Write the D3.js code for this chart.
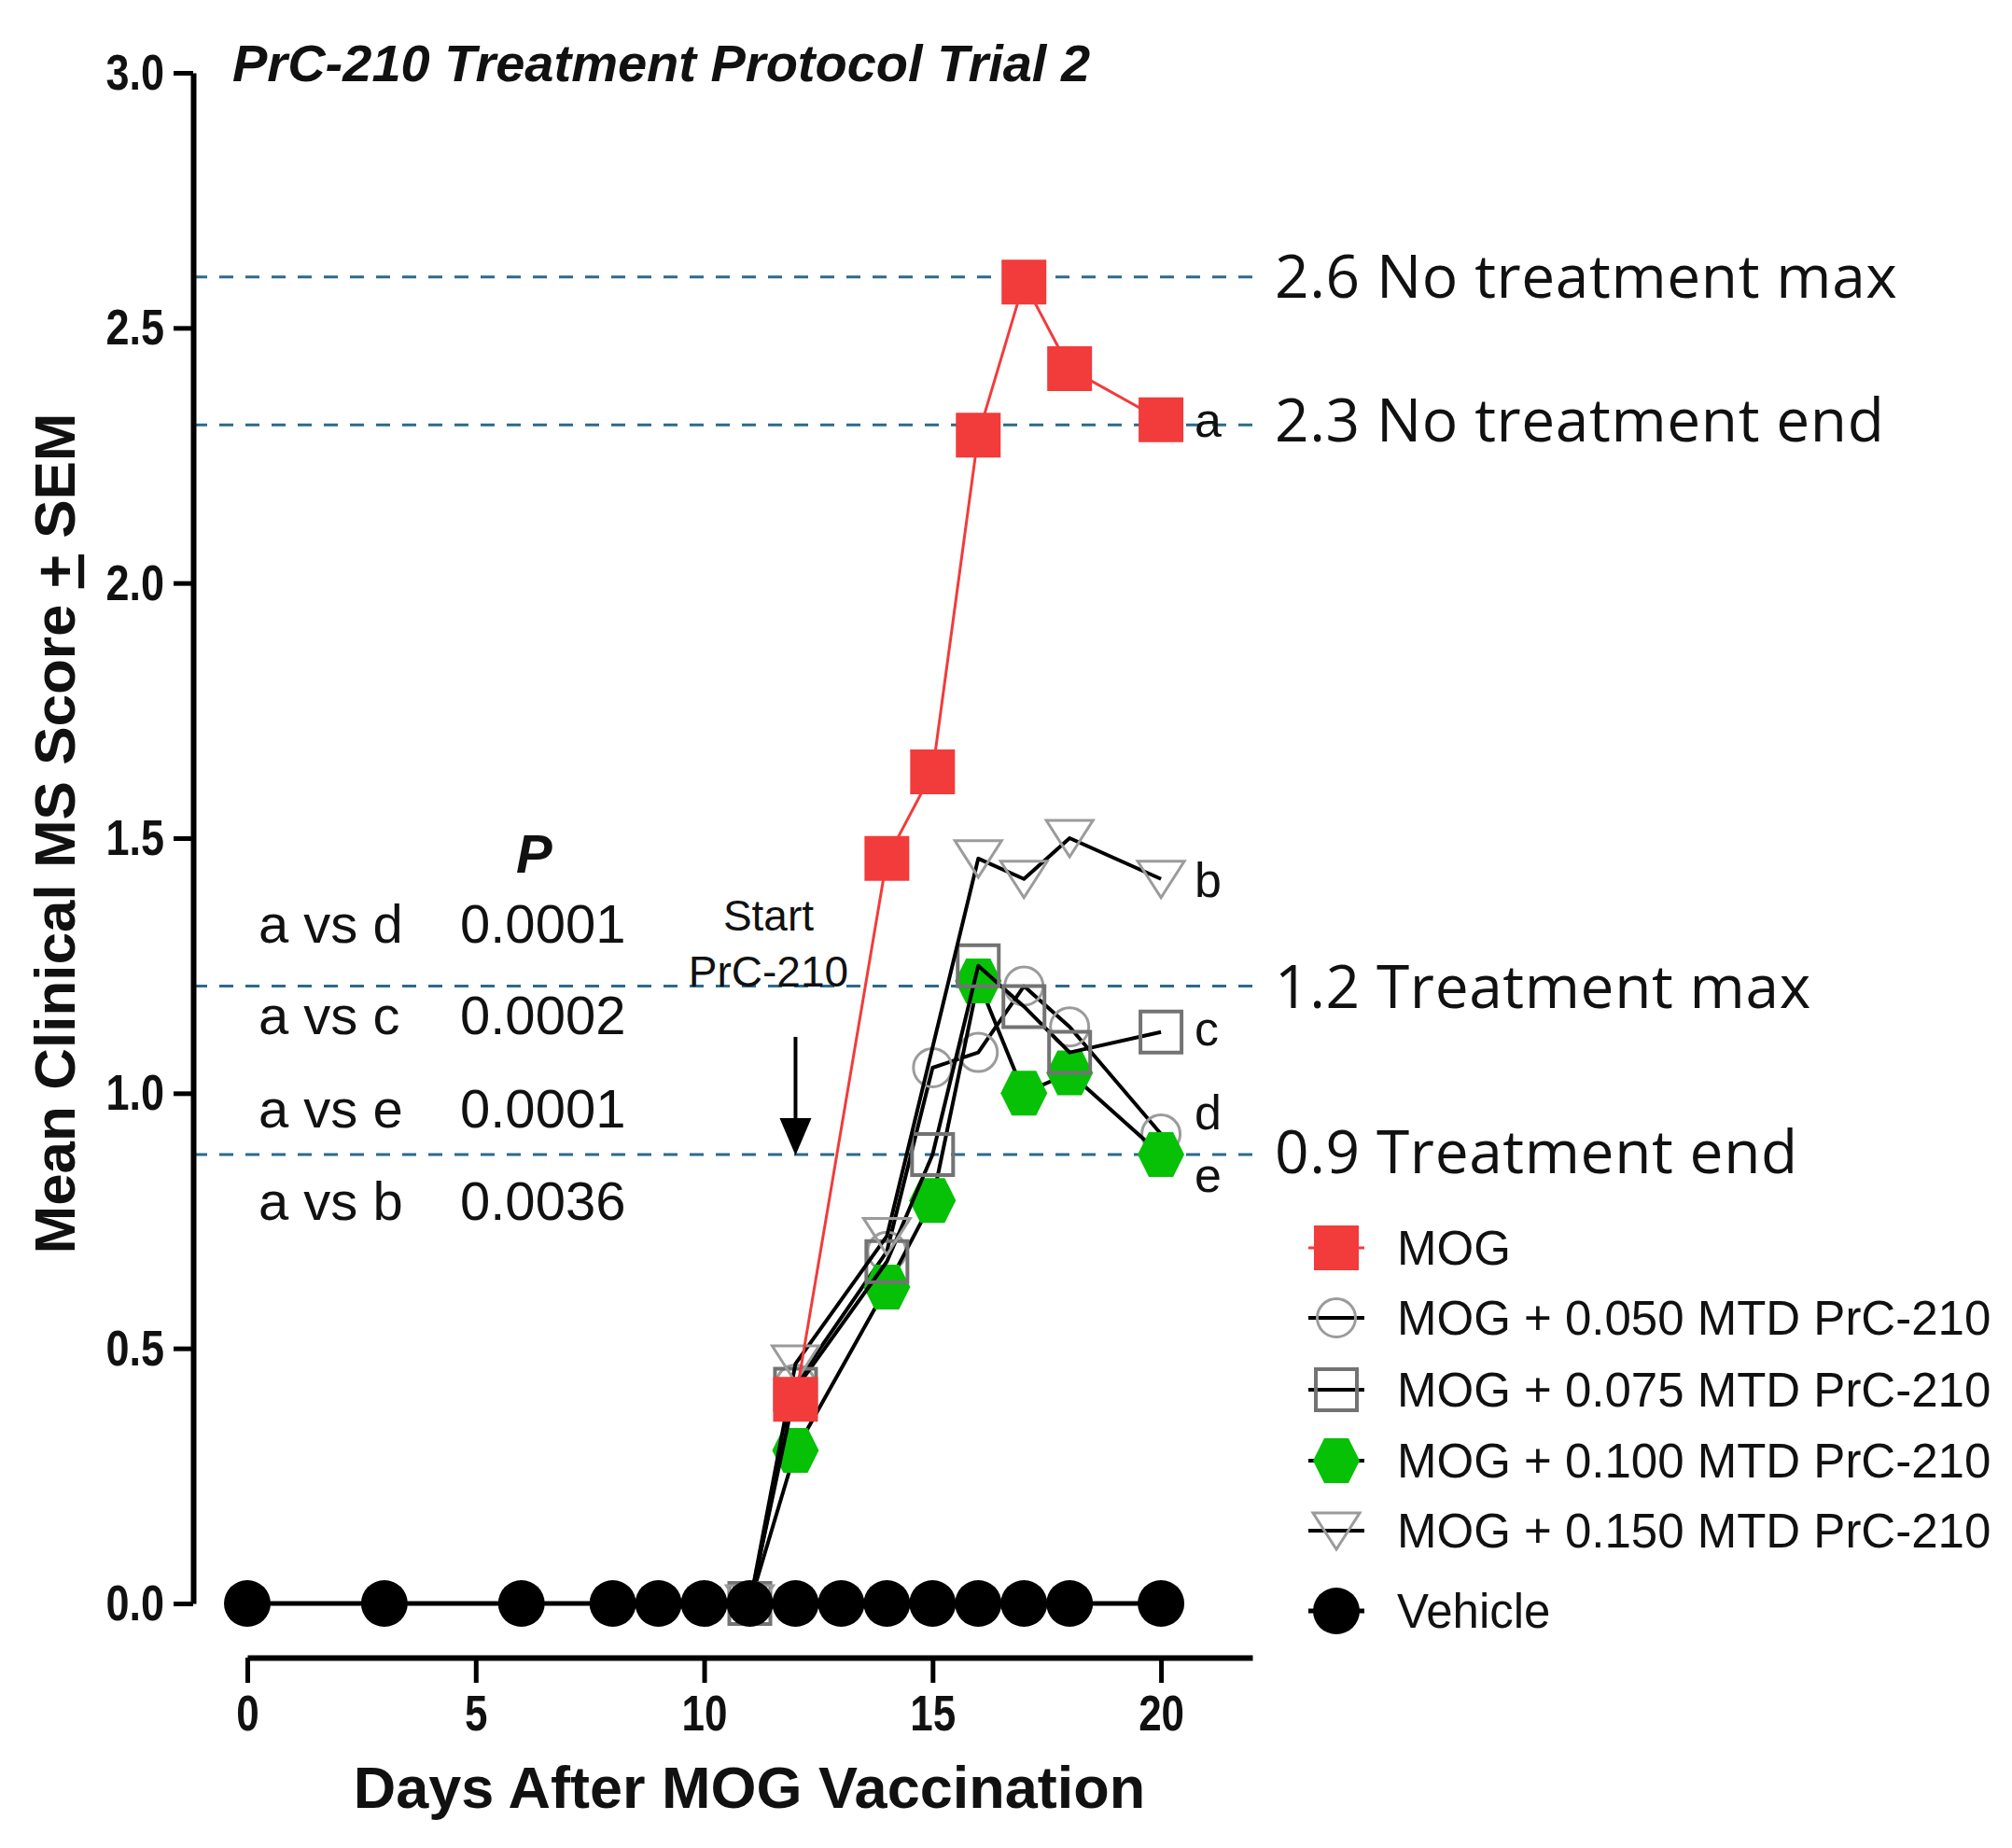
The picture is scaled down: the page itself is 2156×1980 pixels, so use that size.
<!DOCTYPE html>
<html>
<head>
<meta charset="utf-8">
<title>PrC-210 Treatment Protocol Trial 2</title>
<script src="https://d3js.org/d3.v7.min.js"></script>
<style>
  body { margin: 0; background: #fff; }
  svg text { font-family: "Liberation Sans", Arial, sans-serif; fill: #111; }
  /* the tick numbers in the figure are drawn a bit taller than wide */
  .tall { transform-box: fill-box; transform-origin: center; transform: scaleY(1.2); }
</style>
</head>
<body>
<div id="chart"></div>
<script>
// values
const mogDays = [12, 14, 15, 16, 17, 18, 20];
const mogScores = [0.40, 1.46, 1.63, 2.29, 2.59, 2.42, 2.32];
const mtd050Days = [11, 12, 14, 15, 16, 17, 18, 20];
const mtd050Scores = [0, 0.43, 0.69, 1.05, 1.08, 1.21, 1.13, 0.92];
const mtd075Days = [11, 12, 14, 15, 16, 17, 18, 20];
const mtd075Scores = [0, 0.42, 0.67, 0.88, 1.25, 1.17, 1.08, 1.12];
const mtd100Days = [11, 12, 14, 15, 16, 17, 18, 20];
const mtd100Scores = [0, 0.30, 0.62, 0.79, 1.22, 1.00, 1.04, 0.88];
const mtd150Days = [11, 12, 14, 16, 17, 18, 20];
const mtd150Scores = [0, 0.47, 0.72, 1.46, 1.42, 1.50, 1.42];
const vehicleDays = [0, 3, 6, 8, 9, 10, 11, 12, 13, 14, 15, 16, 17, 18, 20];
const vehicleScores = [0, 0, 0, 0, 0, 0, 0, 0, 0, 0, 0, 0, 0, 0, 0];

const seriesNames = ['MOG', 'MOG + 0.050 MTD PrC-210', 'MOG + 0.075 MTD PrC-210',
  'MOG + 0.100 MTD PrC-210', 'MOG + 0.150 MTD PrC-210', 'Vehicle'];
const endLetters = ['a', 'd', 'c', 'e', 'b', ''];

const refValues = [2.6, 2.31, 1.21, 0.88];
const refLabels = ['2.6 No treatment max', '2.3 No treatment end', '1.2 Treatment max', '0.9 Treatment end'];

const pairLabels = ['a vs d', 'a vs c', 'a vs e', 'a vs b'];
const pValues = ['0.0001', '0.0002', '0.0001', '0.0036'];

const yMajorTicks = [0, 0.5, 1, 1.5, 2, 2.5, 3];
const xMajorTicks = [0, 5, 10, 15, 20];

const title = 'PrC-210 Treatment Protocol Trial 2';
const xTitle = 'Days After MOG Vaccination';

// ---- layout ----
const width = 2156, height = 1980;
const yAxisX = 207, xAxisY = 1776;

const svg = d3.select('#chart').append('svg')
  .attr('width', width)
  .attr('height', height);
svg.append('rect').attr('width', width).attr('height', height).attr('fill', '#fff');

const xScale = d3.scaleLinear().domain([0, 22]).range([265, 1342]);
const yScale = d3.scaleLinear().domain([0, 3]).range([1718, 78]);

// styles per series (same order as seriesNames)
const styles = [
  { shape: 'square', fill: '#f23b3b', stroke: 'none', sw: 0, line: '#f23b3b', lw: 3 },
  { shape: 'circle', fill: 'none', stroke: '#9b9b9b', sw: 3, line: '#000', lw: 4 },
  { shape: 'openSquare', fill: 'none', stroke: '#737373', sw: 4, line: '#000', lw: 4 },
  { shape: 'hex', fill: '#06c106', stroke: 'none', sw: 0, line: '#000', lw: 4 },
  { shape: 'triDown', fill: 'none', stroke: '#9b9b9b', sw: 3, line: '#000', lw: 4 },
  { shape: 'dot', fill: '#000', stroke: 'none', sw: 0, line: '#000', lw: 5 }
];

const series = [
  { days: mogDays, scores: mogScores },
  { days: mtd050Days, scores: mtd050Scores },
  { days: mtd075Days, scores: mtd075Scores },
  { days: mtd100Days, scores: mtd100Scores },
  { days: mtd150Days, scores: mtd150Scores },
  { days: vehicleDays, scores: vehicleScores }
].map((s, i) => ({
  name: seriesNames[i],
  letter: endLetters[i],
  style: styles[i],
  points: s.days.map((d, j) => ({ day: d, score: s.scores[j] }))
}));

function shapePath(shape) {
  switch (shape) {
    case 'square': return d3.symbol(d3.symbolSquare, 48 * 48)();
    case 'openSquare': return 'M-22,-22H22V22H-22Z';
    case 'circle': return d3.symbol(d3.symbolCircle, Math.PI * 20.5 * 20.5)();
    case 'dot': return d3.symbol(d3.symbolCircle, Math.PI * 25 * 25)();
    case 'hex': return 'M-25,0L-13,-24L13,-24L25,0L13,24L-13,24Z';
    case 'triDown': return 'M-25,-19L25,-19L0,20Z';
  }
}

// ---- reference lines ----
const refG = svg.append('g');
refG.selectAll('line').data(refValues).join('line')
  .attr('x1', yAxisX).attr('x2', 1348)
  .attr('y1', d => yScale(d)).attr('y2', d => yScale(d))
  .attr('stroke', '#2b6b8c')
  .attr('stroke-width', 3)
  .attr('stroke-dasharray', '15,13');

const refDy = [22, 18, 23, 20];
refG.selectAll('text').data(refLabels).join('text')
  .attr('x', 1366)
  .attr('y', (d, i) => yScale(refValues[i]) + refDy[i])
  .style('font-family', '"Open Sans", "Noto Sans", sans-serif')
  .style('font-size', '64px')
  .style('letter-spacing', '0.6px')
  .text(d => d);

// ---- axes ----
const yAxisG = svg.append('g').attr('transform', `translate(${yAxisX},0)`);
yAxisG.call(d3.axisLeft(yScale)
  .tickValues(d3.range(0, 31).map(i => i / 10).filter(v => Math.round(v * 10) % 5 !== 0))
  .tickSize(11).tickSizeOuter(0).tickFormat(''));
yAxisG.call(d3.axisLeft(yScale)
  .tickValues(yMajorTicks)
  .tickSize(21).tickSizeOuter(0).tickPadding(10)
  .tickFormat(d3.format('.1f')));
yAxisG.selectAll('.domain').attr('stroke-width', 6).attr('stroke', '#000');
yAxisG.selectAll('.tick line').attr('stroke-width', 5).attr('stroke', '#000');
yAxisG.selectAll('.tick text')
  .attr('class', 'tall')
  .style('font-size', '45px').style('font-weight', 'bold')
  .attr('fill', '#111');

const xAxisG = svg.append('g').attr('transform', `translate(0,${xAxisY})`);
xAxisG.call(d3.axisBottom(xScale)
  .tickValues(d3.range(0, 23).filter(v => v % 5 !== 0))
  .tickSize(14).tickSizeOuter(0).tickFormat(''));
xAxisG.call(d3.axisBottom(xScale)
  .tickValues(xMajorTicks)
  .tickSize(27).tickSizeOuter(0).tickPadding(17)
  .tickFormat(d3.format('d')));
xAxisG.selectAll('.domain').attr('stroke-width', 6).attr('stroke', '#000');
xAxisG.selectAll('.tick line').attr('stroke-width', 5).attr('stroke', '#000');
xAxisG.selectAll('.tick text')
  .attr('class', 'tall')
  .style('font-size', '44px').style('font-weight', 'bold')
  .attr('fill', '#111');

// axis titles
svg.append('text')
  .attr('x', 803).attr('y', 1937)
  .attr('text-anchor', 'middle')
  .style('font-size', '63px').style('font-weight', 'bold')
  .text(xTitle);

const yTitle = svg.append('text')
  .attr('transform', 'translate(80,893) rotate(-90)')
  .attr('text-anchor', 'middle')
  .style('font-size', '62px').style('font-weight', 'bold');
yTitle.append('tspan').text('Mean Clinical MS Score ');
yTitle.append('tspan').style('text-decoration', 'underline').text('+');
yTitle.append('tspan').text(' SEM');

// title
svg.append('text')
  .attr('x', 249).attr('y', 87)
  .style('font-size', '56px').style('font-weight', 'bold').style('font-style', 'italic')
  .text(title);

// ---- data ----
const line = d3.line().x(d => xScale(d.day)).y(d => yScale(d.score));
const drawOrder = [1, 3, 2, 4, 0, 5];
const plotG = svg.append('g');

drawOrder.forEach(i => {
  const s = series[i];
  const g = plotG.append('g');
  g.append('path')
    .datum(s.points)
    .attr('d', line)
    .attr('fill', 'none')
    .attr('stroke', s.style.line)
    .attr('stroke-width', s.style.lw)
    .attr('stroke-linejoin', 'round');
  g.selectAll('path.mark').data(s.points).join('path')
    .attr('class', 'mark')
    .attr('transform', d => `translate(${xScale(d.day)},${yScale(d.score)})`)
    .attr('d', shapePath(s.style.shape))
    .attr('fill', s.style.fill)
    .attr('stroke', s.style.stroke)
    .attr('stroke-width', s.style.sw);
});

// end-of-series letters
const letterDy = [18, -5, 14, 40, 19, 0];
series.forEach((s, i) => {
  if (!s.letter) return;
  const last = s.points[s.points.length - 1];
  svg.append('text')
    .attr('x', xScale(last.day) + 36)
    .attr('y', yScale(last.score) + letterDy[i])
    .style('font-size', '52px')
    .text(s.letter);
});

// start of treatment arrow
const arrowX = xScale(12);
const arrowTip = yScale(refValues[3]) + 1;
svg.append('line')
  .attr('x1', arrowX).attr('x2', arrowX)
  .attr('y1', arrowTip - 127).attr('y2', arrowTip - 30)
  .attr('stroke', '#000').attr('stroke-width', 4);
svg.append('path')
  .attr('d', `M${arrowX - 17},${arrowTip - 40}L${arrowX + 17},${arrowTip - 40}L${arrowX},${arrowTip}Z`)
  .attr('fill', '#000');
svg.append('text')
  .attr('x', arrowX - 29).attr('y', 997)
  .attr('text-anchor', 'middle')
  .style('font-size', '46px').attr('fill', '#3a3a3a')
  .text('Start');
svg.append('text')
  .attr('x', arrowX - 29).attr('y', 1057)
  .attr('text-anchor', 'middle')
  .style('font-size', '46px').attr('fill', '#3a3a3a')
  .text('PrC-210');

// P value table
svg.append('text')
  .attr('x', 553).attr('y', 935)
  .style('font-size', '58px').style('font-weight', 'bold').style('font-style', 'italic')
  .text('P');
const rowY = [1010, 1108, 1208, 1307];
svg.append('g').selectAll('text.pair').data(pairLabels).join('text')
  .attr('x', 277).attr('y', (d, i) => rowY[i])
  .style('font-size', '58px')
  .text(d => d);
svg.append('g').selectAll('text.p').data(pValues).join('text')
  .attr('x', 493).attr('y', (d, i) => rowY[i])
  .style('font-size', '58px')
  .text(d => d);

// ---- legend ----
const legendY = [1337, 1412, 1489, 1565, 1640, 1726];
const legendG = svg.append('g').attr('transform', 'translate(1432,0)');
series.forEach((s, i) => {
  const row = legendG.append('g').attr('transform', `translate(0,${legendY[i]})`);
  row.append('line')
    .attr('x1', -30).attr('x2', 30)
    .attr('stroke', s.style.line).attr('stroke-width', s.style.lw);
  row.append('path')
    .attr('d', shapePath(s.style.shape))
    .attr('fill', s.style.fill)
    .attr('stroke', s.style.stroke)
    .attr('stroke-width', s.style.sw);
  row.append('text')
    .attr('x', 65).attr('y', 18)
    .style('font-size', '51px')
    .text(s.name);
});
</script>
</body>
</html>
